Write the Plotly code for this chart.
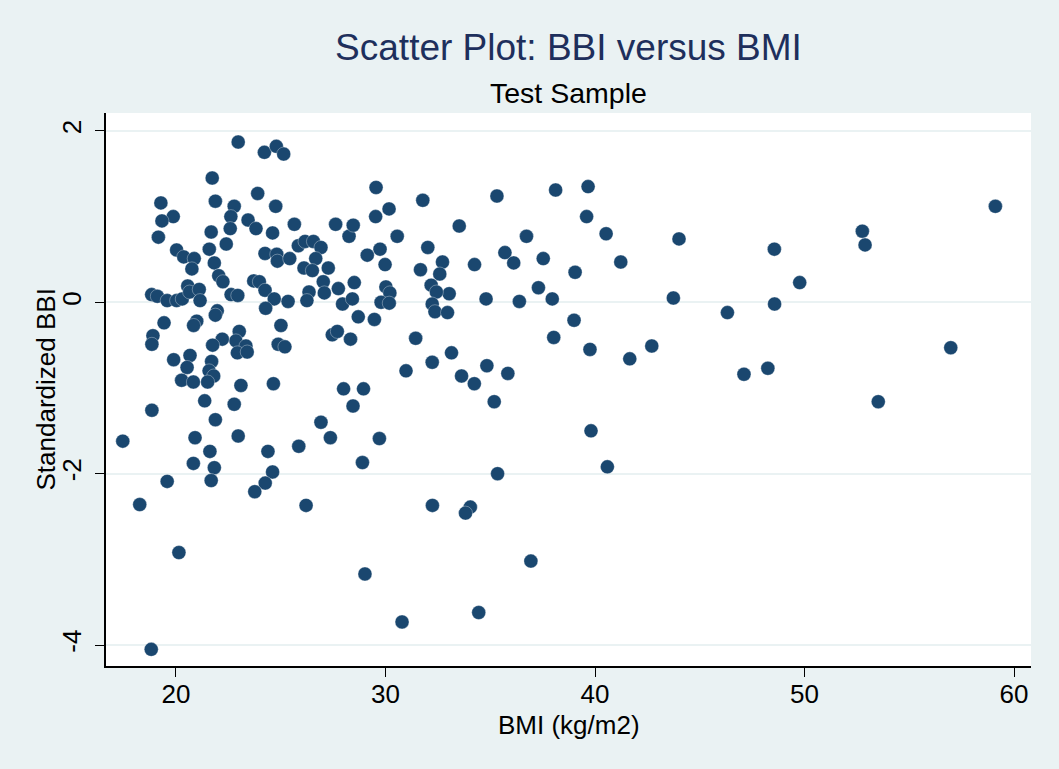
import plotly.graph_objects as go

# BMI (kg/m2) values
bmi = [
    22.97, 24.22, 24.79, 25.14, 21.73, 23.90, 21.88, 19.28, 22.78, 24.76,
    22.62, 19.87, 19.33, 23.44, 23.82, 22.59, 25.65, 21.68, 24.61, 27.62,
    19.16, 28.26, 22.40, 21.59, 20.03, 20.37, 20.87, 20.76, 21.83, 24.25,
    24.81, 24.84, 25.43, 25.84, 26.16, 26.56, 26.92, 26.67, 26.11, 26.51,
    27.27, 22.04, 22.24, 23.71, 23.98, 24.25, 24.69, 24.28, 25.35, 27.03,
    27.08, 27.75, 26.35, 26.25, 18.84, 19.11, 19.58, 20.03, 20.30, 20.56,
    20.65, 21.11, 21.15, 22.63, 22.95, 27.95, 21.97, 21.88, 19.43, 20.99,
    20.84, 25.01, 18.90, 18.85, 23.02, 22.86, 23.34, 22.93, 23.40, 22.21,
    21.75, 24.88, 25.20, 27.46, 27.70, 20.67, 20.53, 19.89, 21.70, 21.58,
    21.80, 20.27, 20.83, 21.51, 23.10, 24.65,
    28.00, 21.37, 22.78, 18.85, 21.88, 26.92, 17.46, 20.91, 22.97, 27.37,
    25.86, 21.62, 24.39, 20.83, 21.83, 24.61, 19.58, 21.68, 24.26, 23.76,
    18.27, 26.21, 20.14, 18.82,
    29.55, 31.78, 35.32, 38.12, 30.17, 29.53, 28.46, 33.52, 30.56, 36.73,
    32.02, 29.74, 29.13, 35.70, 37.53, 29.98, 31.67, 32.72, 32.59, 34.25,
    36.12, 39.05, 28.51, 28.42, 30.02, 30.21, 29.79, 30.18, 32.18, 33.04,
    32.43, 32.23, 32.36, 32.96, 34.80, 36.39, 37.30, 37.96, 28.70, 29.47,
    39.00, 28.33, 31.44, 38.03, 33.15, 32.23, 30.98, 34.84, 35.84, 33.63,
    34.24, 28.95,
    28.45, 35.19, 29.71, 28.90, 35.35, 32.24, 34.05, 33.82, 36.94, 29.02,
    34.45, 30.79,
    39.67, 39.60, 40.53, 44.01, 48.56, 41.23, 49.77, 43.74, 48.57, 46.32,
    39.76, 41.66, 42.71, 47.11, 48.25, 39.81, 40.59,
    59.11, 52.76, 52.89, 56.98, 53.52,
]

# Standardized BBI values
bbi = [
    1.87, 1.75, 1.82, 1.73, 1.45, 1.27, 1.18, 1.16, 1.12, 1.12,
    1.00, 1.00, 0.95, 0.96, 0.86, 0.86, 0.91, 0.82, 0.81, 0.91,
    0.76, 0.77, 0.68, 0.62, 0.61, 0.53, 0.51, 0.39, 0.46, 0.57,
    0.56, 0.48, 0.51, 0.66, 0.71, 0.71, 0.64, 0.51, 0.40, 0.37,
    0.40, 0.31, 0.24, 0.25, 0.24, 0.14, 0.04, -0.07, 0.01, 0.24,
    0.11, 0.16, 0.12, 0.02, 0.09, 0.07, 0.02, 0.02, 0.04, 0.19,
    0.12, 0.15, 0.02, 0.09, 0.08, -0.02, -0.10, -0.15, -0.24, -0.22,
    -0.27, -0.27, -0.39, -0.49, -0.34, -0.45, -0.51, -0.59, -0.58, -0.43,
    -0.50, -0.49, -0.52, -0.38, -0.34, -0.62, -0.76, -0.67, -0.69, -0.80,
    -0.86, -0.91, -0.93, -0.93, -0.97, -0.95,
    -1.01, -1.15, -1.19, -1.26, -1.37, -1.40, -1.62, -1.58, -1.56, -1.58,
    -1.68, -1.74, -1.74, -1.88, -1.93, -1.98, -2.09, -2.08, -2.11, -2.21,
    -2.36, -2.37, -2.92, -4.05,
    1.34, 1.19, 1.24, 1.31, 1.09, 1.00, 0.90, 0.89, 0.77, 0.77,
    0.64, 0.62, 0.55, 0.58, 0.51, 0.44, 0.38, 0.47, 0.33, 0.44,
    0.46, 0.35, 0.23, 0.04, 0.18, 0.11, 0.00, -0.01, 0.20, 0.10,
    0.12, -0.02, -0.11, -0.12, 0.04, 0.01, 0.17, 0.04, -0.17, -0.20,
    -0.21, -0.43, -0.42, -0.41, -0.59, -0.70, -0.80, -0.74, -0.83, -0.86,
    -0.95, -1.01,
    -1.21, -1.16, -1.59, -1.87, -2.00, -2.37, -2.39, -2.46, -3.02, -3.17,
    -3.62, -3.73,
    1.35, 1.00, 0.80, 0.74, 0.62, 0.47, 0.23, 0.05, -0.02, -0.12,
    -0.55, -0.66, -0.51, -0.84, -0.77, -1.50, -1.92,
    1.12, 0.83, 0.67, -0.53, -1.16,
]

x_ticks = [20, 30, 40, 50, 60]
y_ticks = [-4, -2, 0, 2]
y_tick_labels = ["-4", "-2", "0", "2"]

title_text = "Scatter Plot: BBI versus BMI"
subtitle_text = "Test Sample"
x_title = "BMI (kg/m2)"
y_title = "Standardized BBI"

BG = "#EAF2F3"
NAVY = "#1A476F"
FONT = "Liberation Sans, Arial, Helvetica, sans-serif"

fig = go.Figure(
    go.Scatter(
        x=bmi, y=bbi, mode="markers",
        marker=dict(color=NAVY, size=14,
                    line=dict(color="rgba(255,255,255,0.55)", width=0.6)),
        hoverinfo="x+y",
    )
)

W, H = 1059, 769
L, R, T, B = 106, 28, 113, 103

fig.update_layout(
    width=W, height=H,
    margin=dict(l=L, r=R, t=T, b=B, pad=0),
    paper_bgcolor=BG, plot_bgcolor="white",
    font=dict(family=FONT, color="black", size=26),
    showlegend=False,
    title=dict(text=title_text, x=(L + (W - L - R) / 2) / W, xanchor="center",
               y=1 - 47 / H, yanchor="middle", yref="container",
               font=dict(size=37, color="#1E2F5C", family=FONT)),
    annotations=[
        dict(text=subtitle_text, xref="paper", yref="paper", x=0.5,
             y=(666 - 93.5) / 553, xanchor="center", yanchor="middle",
             showarrow=False, font=dict(size=28.5, color="black", family=FONT)),
        dict(text=x_title, xref="paper", yref="paper", x=0.5,
             y=(666 - 725) / 553, xanchor="center", yanchor="middle",
             showarrow=False, font=dict(size=26, color="black", family=FONT)),
        dict(text=y_title, xref="paper", yref="paper", x=(45 - 106) / 925,
             y=0.5, xanchor="center", yanchor="middle", textangle=-90,
             showarrow=False, font=dict(size=26, color="black", family=FONT)),
    ],
)

fig.update_xaxes(
    range=[16.66, 60.81], tickvals=x_ticks, ticks="outside", ticklen=9,
    tickwidth=1.2, tickcolor="black", showline=True, linecolor="black",
    linewidth=1.5, showgrid=False, zeroline=False, mirror=False,
    tickfont=dict(size=26), ticklabelstandoff=-5,
)
fig.update_yaxes(
    range=[-4.244, 2.209], tickvals=y_ticks, ticktext=y_tick_labels,
    ticks="outside", ticklen=9,
    tickwidth=1.2, tickcolor="black", showline=True, linecolor="black",
    linewidth=1.5, showgrid=True, gridcolor=BG, gridwidth=2,
    zeroline=False, mirror=False, tickangle=-90,
    tickfont=dict(size=26), ticklabelstandoff=4,
)

fig.write_html(
    "out.html",
    config={"displayModeBar": False},
    post_script="document.body.style.margin='0';document.body.style.background='white';",
)
